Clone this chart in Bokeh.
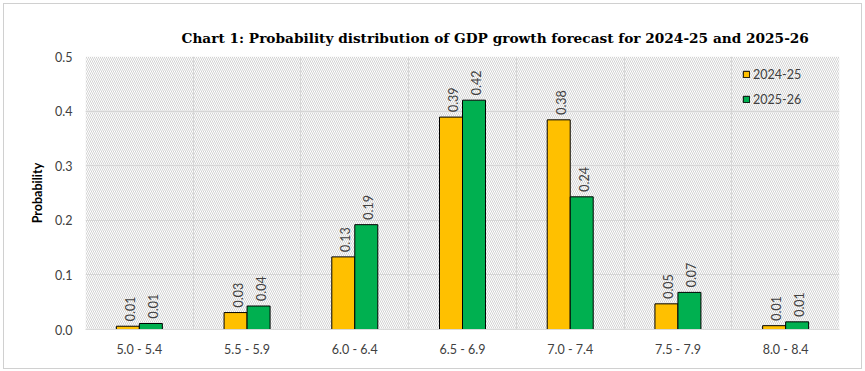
import numpy as np
from bokeh.plotting import figure
from bokeh.models import (Range1d, FixedTicker, PrintfTickFormatter, BoxAnnotation,
                          ColumnDataSource, Legend, LegendItem, Title)
from bokeh.core.properties import value
from bokeh.embed import file_html
from bokeh.resources import INLINE

title_text = "Chart 1: Probability distribution of  GDP growth forecast for 2024-25 and 2025-26"
categories = ["5.0 - 5.4", "5.5 - 5.9", "6.0 - 6.4", "6.5 - 6.9", "7.0 - 7.4", "7.5 - 7.9", "8.0 - 8.4"]
series_names = ["2024-25", "2025-26"]
prob_2024_25 = [0.006, 0.031, 0.133, 0.389, 0.384, 0.047, 0.007]
prob_2025_26 = [0.011, 0.043, 0.192, 0.420, 0.243, 0.068, 0.014]
y_ticks = [0.0, 0.1, 0.2, 0.3, 0.4, 0.5]

YELLOW = "#FFC000"
GREEN = "#00B050"
FONT = "Lato"

n = len(categories)
centers = np.arange(n) + 0.5
bar_w = 0.2135

p = figure(width=857, height=364, output_backend="svg", toolbar_location=None,
           x_range=Range1d(0, n), y_range=Range1d(0, 0.5),
           min_border_left=81, min_border_right=22, min_border_top=52, min_border_bottom=39,
           frame_width=754, frame_height=273)
p.margin = (3, 0, 0, 3)
p.styles = {"border": "1px solid #d0d0d0", "box-sizing": "border-box"}
p.outline_line_color = None
p.background_fill_color = "white"

# hatched background
p.add_layout(BoxAnnotation(left=0, right=n, bottom=0, top=0.5, fill_alpha=0,
                           line_color=None, hatch_pattern="left_diagonal_line",
                           hatch_color="#d2d2d2", hatch_alpha=1.0, hatch_scale=4, hatch_weight=1,
                           level="underlay"))

# small spacer between title and plot frame
p.add_layout(Title(text=" ", text_font_size="3px", standoff=0), "above")

# title
p.title.text = title_text
p.title.text_font = "DejaVu Serif"
p.title.text_font_size = "13.7px"
p.title.text_font_style = "bold"
p.title.align = "left"
p.title.offset = 96
p.title.vertical_align = "top"
p.title.standoff = 7
p.title.text_color = "black"

# axes
p.xaxis.ticker = FixedTicker(ticks=list(centers))
p.xaxis.major_label_overrides = {float(c): lab for c, lab in zip(centers, categories)}
p.xaxis.major_tick_out = 0
p.xaxis.major_tick_in = 0
p.xaxis.minor_tick_line_color = None
p.xaxis.axis_line_color = "#d9d9d9"
p.xaxis.major_label_standoff = 12
p.xaxis.major_label_text_font = FONT
p.xaxis.major_label_text_font_size = "12.5px"
p.xaxis.major_label_text_color = "#404040"

p.yaxis.ticker = FixedTicker(ticks=y_ticks)
p.yaxis.formatter = PrintfTickFormatter(format="%.1f")
p.yaxis.major_tick_out = 0
p.yaxis.major_tick_in = 0
p.yaxis.minor_tick_line_color = None
p.yaxis.axis_line_color = None
p.yaxis.major_label_standoff = 13
p.yaxis.major_label_text_font = FONT
p.yaxis.major_label_text_font_size = "12.5px"
p.yaxis.major_label_text_color = "#404040"
p.yaxis.axis_label = "Probability"
p.yaxis.axis_label_text_font = FONT
p.yaxis.axis_label_text_font_size = "12.5px"
p.yaxis.axis_label_text_font_style = "bold"
p.yaxis.axis_label_text_color = "black"
p.yaxis.axis_label_standoff = 7

# grids
p.xgrid.ticker = FixedTicker(ticks=list(range(n + 1)))
p.xgrid.grid_line_color = "#d9d9d9"
p.ygrid.grid_line_color = "#d9d9d9"

src = ColumnDataSource(dict(
    x1=centers - bar_w / 2, x2=centers + bar_w / 2,
    y1=prob_2024_25, y2=prob_2025_26,
    t1=[f"{v:.2f}" for v in prob_2024_25], t2=[f"{v:.2f}" for v in prob_2025_26],
))

r1 = p.vbar(x="x1", top="y1", width=bar_w, source=src, fill_color=YELLOW, line_color="black", line_width=1)
r2 = p.vbar(x="x2", top="y2", width=bar_w, source=src, fill_color=GREEN, line_color="black", line_width=1)

for xc, yc, tc in (("x1", "y1", "t1"), ("x2", "y2", "t2")):
    p.text(x=xc, y=yc, text=tc, source=src, angle=np.pi / 2, text_align="left",
           text_baseline="middle", x_offset=2, y_offset=-5,
           text_font=value(FONT), text_font_size="12.5px", text_color="#404040")

legend = Legend(items=[LegendItem(label=series_names[0], renderers=[r1]),
                       LegendItem(label=series_names[1], renderers=[r2])],
                location=(657, 220), padding=0, margin=0, spacing=5,
                glyph_width=8, glyph_height=8, label_height=20, label_standoff=3,
                label_text_font=FONT, label_text_font_size="12.5px", label_text_color="#404040",
                border_line_color=None, background_fill_alpha=0)
p.add_layout(legend)

open("out.html", "w").write(file_html(p, INLINE))
